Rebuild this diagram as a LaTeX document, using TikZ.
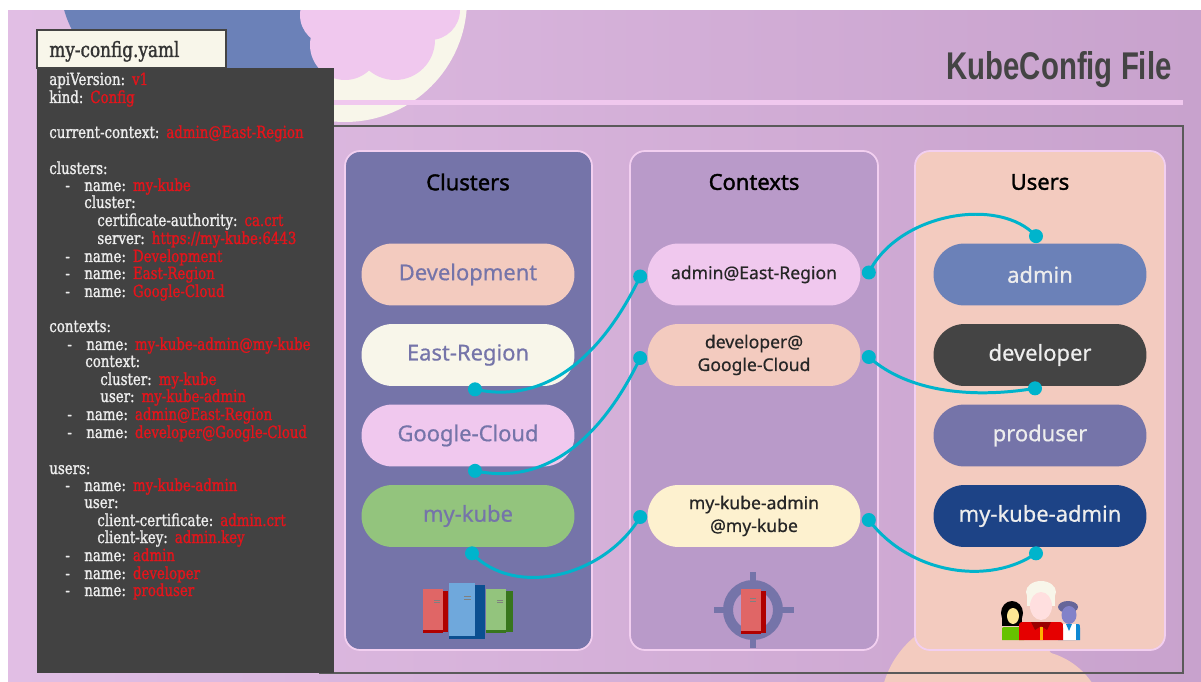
\documentclass[tikz,border=0pt]{standalone}
\usepackage{fontspec}
\setmainfont{Noto Sans}
\newfontfamily\pillfont[FakeBold=0.6]{Noto Sans}
\newfontfamily\headfont[FakeBold=1.6]{Noto Sans}
\newfontfamily\yamlfont[FakeBold=1.2, FakeStretch=0.8]{DejaVu Serif}
\newfontfamily\titlefont[FakeStretch=0.76]{Liberation Sans}
\usetikzlibrary{shapes.misc}

\definecolor{bgleft}{HTML}{E1BEE4}
\definecolor{bgright}{HTML}{C8A2CD}
\definecolor{cloudblue}{HTML}{6B81B8}
\definecolor{cloudcream}{HTML}{F8F6EA}
\definecolor{cloudpink}{HTML}{F0C8EE}
\definecolor{peach}{HTML}{F3CBBF}
\definecolor{codebg}{HTML}{424242}
\definecolor{yamlkey}{HTML}{EDEDED}
\definecolor{yamlred}{HTML}{E3141B}
\definecolor{framegray}{HTML}{5A5A5A}
\definecolor{titlegray}{HTML}{444444}
\definecolor{panelline}{HTML}{F2CFF0}
\definecolor{slate}{HTML}{7574A9}
\definecolor{lilac}{HTML}{B99AC9}
\definecolor{kubegreen}{HTML}{93C47D}
\definecolor{lightyellow}{HTML}{FDF1CF}
\definecolor{adminblue}{HTML}{6B81B8}
\definecolor{darkgray}{HTML}{444444}
\definecolor{navy}{HTML}{1D4386}
\definecolor{linkcyan}{HTML}{00B4CC}
\definecolor{srvred}{HTML}{E06666}
\definecolor{srvredside}{HTML}{B00000}
\definecolor{srvblue}{HTML}{6FA8DC}
\definecolor{srvblueside}{HTML}{0B4F91}
\definecolor{srvgreen}{HTML}{93C47D}
\definecolor{srvgreenside}{HTML}{38761D}

\newcommand\yv[1]{\hspace{4pt}\textcolor{yamlred}{#1}}
\newcommand\yd{\makebox[10.8pt][l]{-}}

\tikzset{
    yaml/.style={anchor=base west, inner sep=0pt, text=yamlkey, font=\yamlfont\fontsize{9.5}{11}\selectfont},
    panel/.style={draw=panelline, line width=1pt, rounded corners=0.3cm},
    heading/.style={text=black, font=\headfont\fontsize{12.5}{15}\selectfont},
    pill/.style={rounded rectangle, minimum width=4.26cm, minimum height=1.24cm, inner sep=0pt, font=\pillfont\fontsize{12.5}{15}\selectfont},
    clpill/.style={pill, text=slate},
    ctxpill/.style={pill, text=black!85, align=center, font=\pillfont\fontsize{10}{13}\selectfont},
    usrpill/.style={pill, text=yamlkey},
    link/.style={draw=linkcyan, line width=1.7pt},
}

\begin{document}
\begin{tikzpicture}[x=0.02cm, y=-0.02cm]
    \useasboundingbox (0,0) rectangle (1201,682);
    \fill[white] (0,0) rectangle (1201,682);
    \fill[left color=bgleft, right color=bgright] (8,11) rectangle (1201,682);

    \begin{scope}
        \clip (8,11) rectangle (1201,682);
        \fill[cloudcream] (345,0) circle (122);
        \fill[cloudblue] (170,-20) circle (110);
        \fill[cloudblue] (290,40) circle (55);
        \fill[cloudblue] (245,62) circle (18);
        \fill[cloudpink] (345,45) circle (35);
        \fill[cloudpink] (395,40) circle (40);
        \fill[cloudpink] (330,15) circle (30);
        \fill[cloudpink] (430,10) circle (30);
        \fill[cloudpink] (375,0) circle (45);
        \fill[peach] (975,710) circle (95);
        \fill[peach] (1030,725) circle (75);
    \end{scope}

    \fill[cloudpink] (334,100) rectangle (1183,105);
    \draw[framegray, line width=0.7pt] (320,126) rectangle (1183,673);

    \fill[codebg] (37,68) rectangle (334,673);
    \draw[darkgray, fill=cloudcream, line width=0.6pt] (37,30) rectangle (226,68);
    \node[anchor=base west, inner sep=0pt, text=black!80, font=\yamlfont\fontsize{12}{13}\selectfont] (file) at (49,57) {my-config.yaml};

    \node[yaml] (l1) at (49,85) {apiVersion:\yv{v1}};
    \node[yaml] (l2) at (49,103) {kind:\yv{Config}};
    \node[yaml] (l3) at (49,138) {current-context:\yv{admin@East-Region}};
    \node[yaml] (l4) at (49,174) {clusters:};
    \node[yaml] (l5) at (65,191) {\yd name:\yv{my-kube}};
    \node[yaml] (l6) at (84,208) {cluster:};
    \node[yaml] (l7) at (97,226) {certificate-authority:\yv{ca.crt}};
    \node[yaml] (l8) at (97,244) {server:\yv{https://my-kube:6443}};
    \node[yaml] (l9) at (65,262) {\yd name:\yv{Development}};
    \node[yaml] (l10) at (65,279) {\yd name:\yv{East-Region}};
    \node[yaml] (l11) at (65,297) {\yd name:\yv{Google-Cloud}};
    \node[yaml] (l12) at (49,332) {contexts:};
    \node[yaml] (l13) at (67,350) {\yd name:\yv{my-kube-admin@my-kube}};
    \node[yaml] (l14) at (85,367) {context:};
    \node[yaml] (l15) at (100,385) {cluster:\yv{my-kube}};
    \node[yaml] (l16) at (100,402) {user:\yv{my-kube-admin}};
    \node[yaml] (l17) at (67,420) {\yd name:\yv{admin@East-Region}};
    \node[yaml] (l18) at (67,438) {\yd name:\yv{developer@Google-Cloud}};
    \node[yaml] (l19) at (49,474) {users:};
    \node[yaml] (l20) at (65,491) {\yd name:\yv{my-kube-admin}};
    \node[yaml] (l21) at (84,508) {user:};
    \node[yaml] (l22) at (97,526) {client-certificate:\yv{admin.crt}};
    \node[yaml] (l23) at (97,543) {client-key:\yv{admin.key}};
    \node[yaml] (l24) at (65,561) {\yd name:\yv{admin}};
    \node[yaml] (l25) at (65,579) {\yd name:\yv{developer}};
    \node[yaml] (l26) at (65,596) {\yd name:\yv{produser}};

    \node[anchor=base east, inner sep=0pt, text=titlegray, font=\titlefont\bfseries\fontsize{22}{26}\selectfont] (title) at (1172,80) {KubeConfig File};

    \draw[panel, fill=slate] (345,151) rectangle (592,650);
    \draw[panel, fill=lilac] (630,151) rectangle (878,650);
    \draw[panel, fill=peach] (915,151) rectangle (1165,650);

    \node[heading] (hClusters) at (468,182) {Clusters};
    \node[heading] (hContexts) at (754,182) {Contexts};
    \node[heading] (hUsers) at (1040,182) {Users};

    \node[clpill, fill=peach] (clDev) at (468,274.5) {Development};
    \node[clpill, fill=cloudcream] (clEast) at (468,355) {East-Region};
    \node[clpill, fill=cloudpink] (clGoogle) at (468,435.5) {Google-Cloud};
    \node[clpill, fill=kubegreen] (clKube) at (468,516) {my-kube};

    \node[ctxpill, fill=cloudpink] (ctxAdmin) at (754,274.5) {admin@East-Region};
    \node[ctxpill, fill=peach] (ctxDev) at (754,355) {developer@\\Google-Cloud};
    \node[ctxpill, fill=lightyellow] (ctxKube) at (754,516) {my-kube-admin\\@my-kube};

    \node[usrpill, fill=adminblue] (usrAdmin) at (1040,274.5) {admin};
    \node[usrpill, fill=darkgray] (usrDev) at (1040,355) {developer};
    \node[usrpill, fill=slate] (usrProd) at (1040,435.5) {produser};
    \node[usrpill, fill=navy] (usrKube) at (1040,516) {my-kube-admin};

    \coordinate (e1) at ([shift={(7,3)}]clEast.south);
    \coordinate (e2) at ([shift={(7,4)}]clGoogle.south);
    \coordinate (e3) at ([shift={(4,6)}]clKube.south);
    \coordinate (w1) at ([shift={(-7,2)}]ctxAdmin.west);
    \coordinate (w2) at ([shift={(-7,3)}]ctxDev.west);
    \coordinate (w3) at ([shift={(-7,1)}]ctxKube.west);
    \coordinate (k1) at ([shift={(8,-2)}]ctxAdmin.east);
    \coordinate (k2) at ([shift={(8,2)}]ctxDev.east);
    \coordinate (k3) at ([shift={(8,4)}]ctxKube.east);
    \coordinate (u1) at ([shift={(-4,-7)}]usrAdmin.north);
    \coordinate (u2) at ([shift={(-5,2)}]usrDev.south);
    \coordinate (u3) at ([shift={(-4,6)}]usrKube.south);

    \draw[link] (e1) .. controls +(85,18) and +(-28,58) .. (w1);
    \draw[link] (e2) .. controls +(85,18) and +(-28,58) .. (w2);
    \draw[link] (e3) .. controls +(43,45) and +(-36,60) .. (w3);
    \draw[link] (k1) .. controls +(30,-60) and +(-36,-40) .. (u1);
    \draw[link] (k2) .. controls +(40,36) and +(-60,10) .. (u2);
    \draw[link] (k3) .. controls +(42,55) and +(-46,32) .. (u3);
    \foreach \p in {e1,e2,e3,w1,w2,w3,k1,k2,k3,u1,u2,u3}
        \fill[linkcyan] (\p) circle (7);

    \fill[srvredside] (443,591) rectangle (448,632);
    \fill[srvred] (423,589) rectangle (443,632);
    \fill[srvredside] (423,630) rectangle (443,633);
    \fill[srvblueside] (475,585) rectangle (485,639);
    \fill[srvblue] (449,583) rectangle (475,636);
    \fill[srvblueside] (449,636) rectangle (484,639);
    \fill[srvgreenside] (506,591) rectangle (513,632);
    \fill[srvgreen] (486,589) rectangle (506,632);
    \fill[srvgreenside] (486,630) rectangle (506,633);
    \draw[gray, line width=0.5pt] (434,600) -- (440,600) (434,602.5) -- (440,602.5);
    \draw[gray, line width=0.5pt] (464,596) -- (471,596) (464,599) -- (471,599);
    \draw[gray, line width=0.5pt] (497,600) -- (503,600) (497,602.5) -- (503,602.5);

    \draw[slate, line width=0.2cm] (753,610) circle (25);
    \draw[slate, line width=0.13cm] (714,610) -- (730,610) (776,610) -- (794,610) (753,572) -- (753,588) (753,632) -- (753,648);
    \fill[srvredside] (761,591) rectangle (766,633);
    \fill[srvred] (741,589) rectangle (761,633);
    \fill[srvredside] (741,631) rectangle (761,634);
    \draw[gray, line width=0.5pt] (750,598) -- (756,598) (750,601) -- (756,601);

    \fill[black] (1012,613) ellipse (11 and 12);
    \fill[black] (1002,613) rectangle (1022,626);
    \fill[yellow!60!orange!40] (1013,616) ellipse (6 and 8);
    \fill[green!60!black!60!yellow] (1002,640) -- (1002,630) .. controls (1002,627) .. (1008,627) -- (1019,627) .. controls (1024,627) .. (1024,630) -- (1024,640) -- cycle;
    \fill[cyan!70!blue] (1058,640) -- (1058,628) .. controls (1058,624) .. (1063,624) -- (1075,624) .. controls (1080,624) .. (1080,628) -- (1080,640) -- cycle;
    \fill[white] (1062,640) rectangle (1076,624);
    \fill[cyan!70!blue] (1066,624) -- (1072,624) -- (1069,631) -- cycle;
    \fill[gray!80!blue] (1068,607) ellipse (10 and 6);
    \fill[gray!60!blue!70!white] (1069,615) ellipse (7.5 and 9);
    \fill[cloudcream] (1041,592) ellipse (15 and 11);
    \fill[cloudcream] (1027,592) rectangle (1055,606);
    \fill[pink!50!white] (1041,606) ellipse (11 and 14);
    \fill[red!90!black] (1019,640) -- (1019,628) .. controls (1019,622) .. (1026,622) -- (1056,622) .. controls (1063,622) .. (1063,628) -- (1063,640) -- cycle;
    \fill[red!60!black] (1031,622) -- (1051,622) -- (1047,630) -- (1041,626) -- (1035,630) -- cycle;
    \fill[orange!60!yellow] (1039.5,627) rectangle (1042.5,640);
\end{tikzpicture}
\end{document}
